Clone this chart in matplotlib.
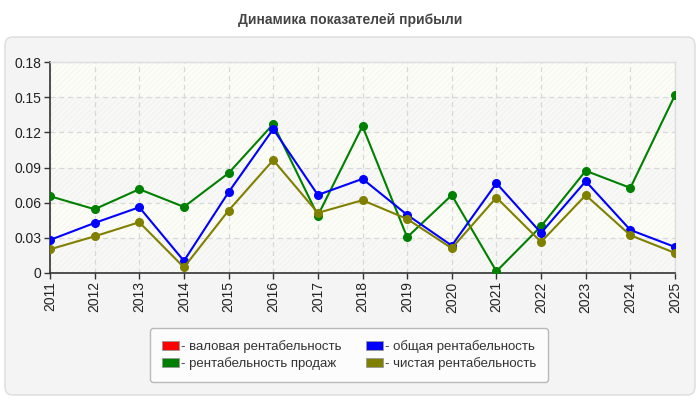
import matplotlib
matplotlib.use("Agg")
import matplotlib.pyplot as plt
from matplotlib.patches import FancyBboxPatch, Patch
import numpy as np

plt.rcParams['font.family'] = ['Liberation Sans', 'DejaVu Sans']
plt.rcParams['hatch.linewidth'] = 0.6

years = [str(y) for y in range(2011, 2026)]
gross = [np.nan] * 15
sales = [0.0655, 0.0544, 0.0715, 0.0564, 0.0852, 0.127, 0.049, 0.1253, 0.0305, 0.0664, 0.0014, 0.0399, 0.0872, 0.0726, 0.1518]
total = [0.0282, 0.0427, 0.0561, 0.0103, 0.0689, 0.1228, 0.0666, 0.0803, 0.0496, 0.0234, 0.0766, 0.0342, 0.0783, 0.0367, 0.0222]
net = [0.0202, 0.0313, 0.0433, 0.0048, 0.0533, 0.0963, 0.0513, 0.0621, 0.0461, 0.0211, 0.0644, 0.0265, 0.0664, 0.0322, 0.0171]
yticks = [0, 0.03, 0.06, 0.09, 0.12, 0.15, 0.18]
ytick_labels = ['0', '0.03', '0.06', '0.09', '0.12', '0.15', '0.18']
title = 'Динамика показателей прибыли'
labels = ['- валовая рентабельность', '- рентабельность продаж',
          '- общая рентабельность', '- чистая рентабельность']
colors = ['#ff0000', '#008000', '#0000ff', '#808000']

W, H = 700, 400
fig = plt.figure(figsize=(W / 100, H / 100), dpi=100)
fig.patch.set_facecolor('white')

bg = fig.add_axes([0, 0, 1, 1], zorder=-10)
bg.set_xlim(0, W)
bg.set_ylim(H, 0)
bg.axis('off')
bg.add_patch(FancyBboxPatch((5, 37), 690, 358,
                            boxstyle="round,pad=0,rounding_size=8",
                            facecolor='#f4f4f4', edgecolor='#dcdcdc', linewidth=1))

fig.text(350 / W, 1 - 20 / H, title, ha='center', va='center',
         fontsize=10, fontweight='bold', color='#444444')

ax = fig.add_axes([50 / W, 1 - 273 / H, 625 / W, 211 / H])
ax.set_facecolor('#fdfdf8')
x = np.arange(len(years))

for i in range(6):
    lo, hi = yticks[i], yticks[i + 1]
    if i % 2 == 0:
        ax.axhspan(lo, hi, facecolor='#f8f8f6', edgecolor='#f0f0ee',
                   hatch='//////', linewidth=0, zorder=0)
    else:
        ax.axhspan(lo, hi, facecolor='#fdfdf8', edgecolor='#f5f5f0',
                   hatch='//////', linewidth=0, zorder=0)

ax.grid(True, color='#d8d8d8', linestyle=(0, (4, 3)), linewidth=0.9, zorder=1)
ax.set_axisbelow(True)

ax.plot(x, gross, color=colors[0], marker='o', markersize=5.5, linewidth=1.5, zorder=3)
ax.plot(x, sales, color=colors[1], marker='o', markersize=5.5, linewidth=1.5, zorder=3)
ax.plot(x, total, color=colors[2], marker='o', markersize=5.5, linewidth=1.5, zorder=4)
ax.plot(x, net, color=colors[3], marker='o', markersize=5.5, linewidth=1.5, zorder=5)

ax.set_xlim(0, len(years) - 1)
ax.set_ylim(0, 0.18)
ax.set_xticks(x)
ax.set_xticklabels(years, rotation=90, fontsize=10, color='#222222')
ax.set_yticks(yticks)
ax.set_yticklabels(ytick_labels, fontsize=10, color='#222222')
ax.tick_params(axis='both', length=4, width=1, color='#333333', pad=2)

for s in ['left', 'bottom']:
    ax.spines[s].set_color('#333333')
    ax.spines[s].set_linewidth(1.2)
for s in ['top', 'right']:
    ax.spines[s].set_color('#dddddd')
    ax.spines[s].set_linewidth(1)

handles = [Patch(facecolor=c, edgecolor='#999999', linewidth=0.6) for c in colors]
leg = fig.legend(handles, labels, loc='center', bbox_to_anchor=(349 / W, 1 - 355 / H),
                 ncol=2, fontsize=9.5, frameon=True, handlelength=1.3, handleheight=0.65,
                 handletextpad=0.15, columnspacing=1.8, labelspacing=0.3,
                 borderpad=0.9, fancybox=True)
leg.get_frame().set_facecolor('white')
leg.get_frame().set_edgecolor('#aaaaaa')
for t in leg.get_texts():
    t.set_color('#333333')

fig.savefig('out.png', dpi=100, facecolor='white')
